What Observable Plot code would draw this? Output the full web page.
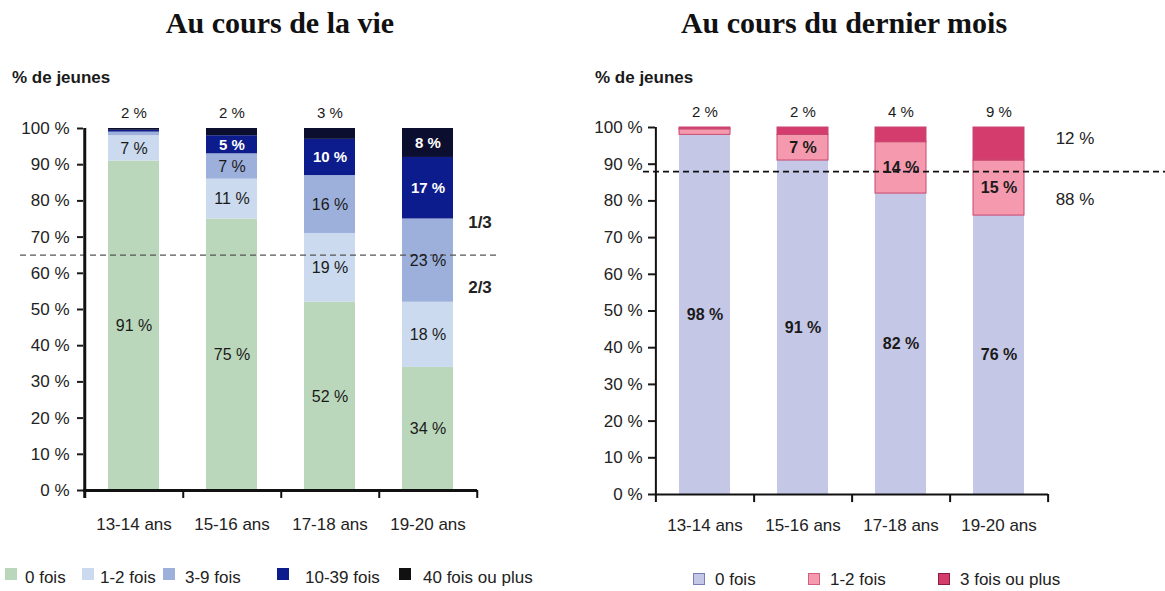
<!DOCTYPE html>
<html><head><meta charset="utf-8">
<script src="https://cdn.jsdelivr.net/npm/d3@7"></script>
<script src="https://cdn.jsdelivr.net/npm/@observablehq/plot@0.6"></script>
<style>
body{margin:0;background:#fff;width:1165px;height:591px;position:relative;overflow:hidden;font-family:"Liberation Sans",Arial,sans-serif;color:#1a1a1a}
.title{position:absolute;top:8px;font-family:"Liberation Serif","Times New Roman",serif;font-weight:bold;font-size:30px;line-height:30px;white-space:nowrap;transform:translateX(-50%);color:#111}
.ylab{position:absolute;top:69px;font-weight:bold;font-size:17px;line-height:17px;white-space:nowrap;color:#1a1a1a}
.chart{position:absolute;top:100px}
.chart svg{overflow:visible}
.leg{position:absolute;font-size:17px;line-height:17px;white-space:nowrap;color:#222}
.sw{position:absolute;width:12px;height:12px;box-sizing:border-box}
</style>
</head>
<body>
<div class="title" style="left:280px">Au cours de la vie</div>
<div class="title" style="left:844px">Au cours du dernier mois</div>
<div class="ylab" style="left:12px">% de jeunes</div>
<div class="ylab" style="left:595px">% de jeunes</div>
<div id="left" class="chart" style="left:0px"></div>
<div id="right" class="chart" style="left:580px"></div>
<div id="legends"></div>
<script>
// ---- Data ----
const ageGroups = ["13-14 ans", "15-16 ans", "17-18 ans", "19-20 ans"];

const lifeSeries = ["0 fois", "1-2 fois", "3-9 fois", "10-39 fois", "40 fois ou plus"];
const life0 = [91, 75, 52, 34];
const life12 = [7, 11, 19, 18];
const life39 = [1, 7, 16, 23];
const life1039 = [0.5, 5, 10, 17];
const life40 = [0.5, 2, 3, 8];
const lifeTop = [2, 2, 3, null];
const lifeColors = ["#bad7bb", "#cbdaee", "#9db0dc", "#0c1c8c", "#0b0e2e"];
const lifeLegendColors = ["#bad7bb", "#cbdaee", "#9db0dc", "#0c1c8c", "#111111"];
const lifeRef = 65;
const lifeRefLabels = ["1/3", "2/3"];
const lifeRefLabelY = [74, 56];

const monthSeries = ["0 fois", "1-2 fois", "3 fois ou plus"];
const month0 = [98, 91, 82, 76];
const month12 = [1.5, 7, 14, 15];
const month3 = [0.5, 2, 4, 9];
const monthTop = [2, 2, 4, 9];
const monthColors = ["#c5c7e6", "#f59aae", "#d43c6e"];
const monthRef = 88;
const monthRefLabels = ["12 %", "88 %"];
const monthRefLabelY = [97, 80.5];

const yTicks = [0, 10, 20, 30, 40, 50, 60, 70, 80, 90, 100];

// ---- Helpers ----
function stackRows(series, values) {
  const rows = [];
  ageGroups.forEach((age, i) => {
    let acc = 0;
    series.forEach((s, j) => {
      const v = values[j][i];
      rows.push({age, series: s, value: v, y1: acc, y2: acc + v, mid: acc + v / 2});
      acc += v;
    });
  });
  return rows;
}
const pct = d => d + " %";

function chart(o) {
  const step = (o.width - o.marginLeft - o.marginRight) / ageGroups.length;
  const inner = o.rows.filter(o.showInner);
  const topRows = ageGroups.map((age, i) => ({age, v: o.top[i]})).filter(d => d.v != null);
  const ann = o.annLabels.map((t, i) => ({t, y: o.annY[i]}));
  return Plot.plot({
    width: o.width, height: o.height,
    marginLeft: o.marginLeft, marginRight: o.marginRight,
    marginTop: o.marginTop, marginBottom: o.marginBottom,
    style: {fontFamily: "Liberation Sans, Arial, sans-serif", fontSize: "17px", color: "#1a1a1a", background: "transparent", overflow: "visible"},
    x: {domain: ageGroups, paddingInner: 0.48, paddingOuter: 0.24, axis: null, label: null},
    y: {domain: [0, 100], axis: null, label: null},
    color: {domain: o.series, range: o.colors},
    marks: [
      Plot.barY(o.rows, {x: "age", y1: "y1", y2: "y2", fill: "series"}),
      ...(o.segStroke ? [Plot.barY(o.rows.filter(d => d.series !== o.series[0]), {x: "age", y1: "y1", y2: "y2", fill: "none", stroke: o.segStroke, strokeWidth: 1})] : []),
      Plot.ruleY([o.ref], {stroke: o.refColor, strokeWidth: o.refWidth, strokeDasharray: "6,4", insetLeft: o.refInsetLeft, insetRight: o.refInsetRight}),
      Plot.axisY(yTicks, {tickFormat: pct, tickSize: o.yTickSize, tickPadding: o.yTickPadding, strokeWidth: 2, fontSize: 17, fill: "#222", label: null}),
      Plot.axisX(ageGroups, {tickSize: 0, tickPadding: o.xTickPadding, fontSize: 17, fill: "#222", label: null}),
      Plot.ruleY([0], {stroke: "#111", strokeWidth: o.axisWidth}),
      Plot.ruleX([ageGroups[0]], {y1: -2.2, y2: 100, dx: -step / 2, stroke: "#111", strokeWidth: o.axisWidth}),
      Plot.ruleX(ageGroups, {y1: -2.2, y2: 0, dx: step / 2, stroke: "#111", strokeWidth: 2}),
      Plot.text(inner.filter(d => !o.white.includes(d.series)), {x: "age", y: "mid", text: d => pct(d.value), fill: "#1a1a1a", fontSize: 16, fontWeight: o.innerWeight}),
      Plot.text(inner.filter(d => o.white.includes(d.series)), {x: "age", y: "mid", text: d => pct(d.value), fill: "white", fontSize: 15, fontWeight: "bold"}),
      Plot.text(topRows, {x: "age", y: 100, dy: -15, text: d => pct(d.v), fill: "#1a1a1a", fontSize: 15}),
      Plot.text(ann, {x: () => ageGroups[ageGroups.length - 1], y: "y", text: "t", dx: o.annDx, fill: "#222", fontSize: 17, fontWeight: o.annWeight})
    ]
  });
}

// ---- Left chart ----
const lifeRows = stackRows(lifeSeries, [life0, life12, life39, life1039, life40]);
document.getElementById("left").append(chart({
  rows: lifeRows, series: lifeSeries, colors: lifeColors, top: lifeTop,
  width: 580, height: 440, marginLeft: 83, marginRight: 103, marginTop: 28, marginBottom: 50,
  showInner: d => d.value >= 5, white: ["10-39 fois", "40 fois ou plus"], innerWeight: "normal",
  ref: lifeRef, refColor: "#555", refWidth: 1.3, refInsetLeft: -63, refInsetRight: -21,
  annLabels: lifeRefLabels, annY: lifeRefLabelY, annDx: 52, annWeight: "bold",
  axisWidth: 3, yTickSize: 6, yTickPadding: 8, xTickPadding: 27, segStroke: null
}));

// ---- Right chart ----
const monthRows = stackRows(monthSeries, [month0, month12, month3]);
document.getElementById("right").append(chart({
  rows: monthRows, series: monthSeries, colors: monthColors, top: monthTop,
  width: 585, height: 440, marginLeft: 75, marginRight: 117, marginTop: 27, marginBottom: 46,
  showInner: d => d.value >= 5 && d.series !== "3 fois ou plus", white: [], innerWeight: "bold",
  ref: monthRef, refColor: "#111", refWidth: 1.8, refInsetLeft: -12, refInsetRight: -117,
  annLabels: monthRefLabels, annY: monthRefLabelY, annDx: 76, annWeight: "normal",
  axisWidth: 2, yTickSize: 7, yTickPadding: 6, xTickPadding: 24, segStroke: "#c8466f"
}));

// ---- Legends (HTML) ----
const legendHost = document.getElementById("legends");
function addLegend(items, colors, swX, txX, swTop, txTop, border) {
  items.forEach((label, i) => {
    const sw = document.createElement("div");
    sw.className = "sw";
    sw.style.left = swX[i] + "px";
    sw.style.top = swTop + "px";
    sw.style.background = colors[i];
    if (border) sw.style.border = "1px solid " + border[i];
    legendHost.append(sw);
    const t = document.createElement("div");
    t.className = "leg";
    t.style.left = txX[i] + "px";
    t.style.top = txTop + "px";
    t.textContent = label;
    legendHost.append(t);
  });
}
addLegend(lifeSeries, lifeLegendColors, [5, 82, 163, 277, 399], [25, 100, 185, 305, 423], 568, 569, null);
addLegend(monthSeries, monthColors, [693, 808, 938], [715, 830, 960], 573, 571, ["#7a7fb8", "#d0607e", "#8a1c40"]);
</script>
</body></html>
